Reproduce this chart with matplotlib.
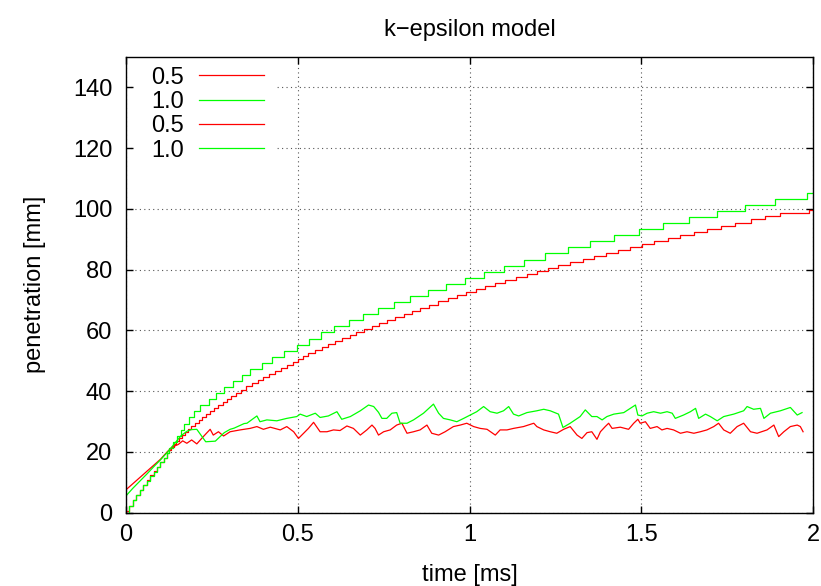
import matplotlib
matplotlib.use('Agg')
import matplotlib.pyplot as plt
import matplotlib.patches as patches

plt.rcParams['font.family'] = ['Liberation Sans', 'DejaVu Sans']

# tip penetration, 0.5 (stepped, red)
tip_t_05 = [0.0, 0.01, 0.02, 0.03, 0.04, 0.05, 0.06, 0.07, 0.08, 0.09, 0.10, 0.11, 0.12,
            0.125, 0.132, 0.139, 0.146, 0.154, 0.163, 0.171, 0.180, 0.190, 0.200,
            0.211, 0.222, 0.233, 0.244, 0.256, 0.269, 0.281, 0.294, 0.307, 0.321,
            0.336, 0.350, 0.367, 0.383, 0.400, 0.417, 0.433, 0.450, 0.468, 0.486,
            0.500, 0.515,
            0.531, 0.551, 0.570, 0.589, 0.609, 0.628, 0.651, 0.670, 0.693, 0.716,
            0.737, 0.759, 0.784, 0.808, 0.832, 0.856, 0.881, 0.908, 0.936, 0.963,
            0.989, 1.019, 1.046, 1.075, 1.104, 1.136, 1.167, 1.196, 1.227, 1.259,
            1.293, 1.329, 1.363, 1.398, 1.431, 1.468, 1.502, 1.538, 1.577, 1.614,
            1.653, 1.692, 1.732, 1.774, 1.818, 1.861, 1.905, 1.987, 2.0]
tip_v_05 = [0.5, 2.3, 4.0, 5.7, 7.4, 9.0, 10.6, 12.2, 13.7, 15.1, 16.5, 18.1, 19.7,
            20.5, 21.5, 22.5, 23.5, 24.5, 25.5, 26.5, 27.5, 28.5, 29.5,
            30.5, 31.5, 32.5, 33.5, 34.5, 35.5, 36.5, 37.5, 38.5, 39.5,
            40.5, 41.5, 42.5, 43.5, 44.5, 45.5, 46.5, 47.5, 48.5, 49.5,
            50.5, 51.5,
            52.5, 53.5, 54.5, 55.5, 56.5, 57.5, 58.5, 59.5, 60.5, 61.5,
            62.5, 63.5, 64.5, 65.5, 66.5, 67.5, 68.5, 69.5, 70.5, 71.5,
            72.5, 73.5, 74.5, 75.5, 76.5, 77.5, 78.5, 79.5, 80.5, 81.5,
            82.5, 83.5, 84.5, 85.5, 86.5, 87.5, 88.5, 89.5, 90.5, 91.5,
            92.5, 93.5, 94.5, 95.5, 96.5, 97.5, 98.5, 99.5, 99.5]

# tip penetration, 1.0 (stepped, green)
tip_t_10 = [0.0, 0.01, 0.02, 0.03, 0.04, 0.05, 0.06, 0.07, 0.08, 0.09, 0.10, 0.11, 0.12,
            0.126, 0.138, 0.148, 0.160, 0.170, 0.182, 0.198, 0.216, 0.243, 0.262,
            0.286, 0.311, 0.338, 0.362, 0.396, 0.425, 0.459, 0.498, 0.532, 0.567,
            0.606, 0.648, 0.689, 0.733, 0.779, 0.827, 0.879, 0.931, 0.987, 1.042,
            1.100, 1.159, 1.221, 1.287, 1.352, 1.421, 1.493, 1.563, 1.640, 1.721,
            1.803, 1.888, 1.983, 2.0]
tip_v_10 = [0.0, 2.0, 4.0, 5.8, 7.4, 9.0, 10.5, 12.0, 13.5, 15.0, 16.5, 18.0, 19.5,
            21.3, 23.3, 25.3, 27.3, 29.3, 31.3, 33.3, 35.3, 37.3, 39.3,
            41.3, 43.3, 45.3, 47.3, 49.3, 51.3, 53.3, 55.3, 57.3, 59.3,
            61.3, 63.3, 65.3, 67.3, 69.3, 71.3, 73.3, 75.3, 77.3, 79.3,
            81.3, 83.3, 85.3, 87.3, 89.3, 91.3, 93.3, 95.3, 97.3, 99.3,
            101.3, 103.3, 105.3, 105.3]

# liquid length, 0.5 (red)
liq_t_05 = [0, 0.02, 0.04, 0.06, 0.08, 0.10, 0.12, 0.135, 0.152, 0.165,
            0.177, 0.191, 0.206, 0.225, 0.245, 0.254, 0.269, 0.284, 0.303, 0.332,
            0.361, 0.381, 0.400, 0.420, 0.449, 0.468, 0.488, 0.502, 0.517, 0.531,
            0.546, 0.565, 0.585, 0.604, 0.623, 0.643, 0.662, 0.682, 0.701, 0.716,
            0.725, 0.735, 0.750, 0.769, 0.788, 0.803, 0.818, 0.837, 0.856, 0.876,
            0.890, 0.910, 0.929, 0.953, 0.973, 0.992, 1.012, 1.031, 1.051, 1.075,
            1.089, 1.109, 1.128, 1.157, 1.187, 1.196, 1.216, 1.235, 1.254, 1.274,
            1.293, 1.313, 1.327, 1.342, 1.356, 1.371, 1.381, 1.395, 1.405, 1.415,
            1.439, 1.463, 1.478, 1.490, 1.497, 1.512, 1.526, 1.546, 1.560, 1.575,
            1.594, 1.614, 1.633, 1.653, 1.672, 1.691, 1.711, 1.725, 1.740, 1.759,
            1.779, 1.798, 1.818, 1.837, 1.866, 1.886, 1.900, 1.915, 1.934, 1.954,
            1.963, 1.971]
liq_v_05 = [7.5, 9.5, 11.5, 13.5, 15.5, 17.5, 20.0, 21.6, 22.4, 23.6,
            22.8, 23.9, 22.6, 25.0, 27.4, 25.5, 26.6, 25.2, 26.6, 27.2,
            27.7, 28.3, 27.4, 28.1, 27.2, 28.3, 26.6, 24.4, 26.1, 27.7,
            29.7, 26.6, 26.6, 27.2, 27.0, 28.5, 27.7, 25.5, 27.2, 28.8,
            27.7, 25.5, 26.6, 27.2, 28.8, 29.4, 26.1, 26.6, 27.2, 28.8,
            26.1, 25.5, 26.6, 28.3, 28.8, 29.4, 28.3, 27.7, 27.4, 25.5,
            27.2, 27.2, 27.7, 28.3, 29.4, 28.3, 27.2, 26.6, 26.1, 27.4,
            28.3, 25.5, 24.4, 26.3, 26.6, 24.1, 26.6, 28.3, 29.4, 27.7,
            28.1, 27.4, 29.4, 30.7, 29.4, 29.9, 27.7, 28.3, 27.2, 27.7,
            27.2, 26.1, 26.6, 26.1, 26.6, 27.2, 28.3, 29.4, 27.2, 26.1,
            28.3, 29.4, 26.6, 26.1, 27.2, 28.8, 25.0, 26.6, 28.3, 28.8,
            28.3, 26.6]

# liquid length, 1.0 (green)
liq_t_10 = [0, 0.02, 0.04, 0.06, 0.08, 0.10, 0.12, 0.14, 0.16, 0.178,
            0.190, 0.206, 0.232, 0.260, 0.286, 0.303, 0.315, 0.344, 0.352, 0.381,
            0.390, 0.410, 0.439, 0.468, 0.497, 0.507, 0.526, 0.551, 0.565, 0.589,
            0.614, 0.628, 0.653, 0.682, 0.706, 0.721, 0.735, 0.745, 0.759, 0.774,
            0.788, 0.798, 0.818, 0.837, 0.866, 0.895, 0.910, 0.924, 0.944, 0.963,
            0.983, 1.002, 1.021, 1.041, 1.060, 1.080, 1.099, 1.114, 1.128, 1.143,
            1.167, 1.196, 1.216, 1.235, 1.259, 1.272, 1.293, 1.322, 1.337, 1.356,
            1.371, 1.386, 1.400, 1.420, 1.449, 1.468, 1.483, 1.490, 1.502, 1.517,
            1.536, 1.556, 1.575, 1.590, 1.599, 1.623, 1.643, 1.658, 1.667, 1.687,
            1.701, 1.721, 1.740, 1.769, 1.798, 1.808, 1.827, 1.847, 1.857, 1.876,
            1.905, 1.934, 1.954, 1.968]
liq_v_10 = [5.5, 8.0, 10.3, 12.6, 15.0, 17.3, 19.8, 22.5, 25.3, 26.8,
            27.3, 27.4, 23.3, 23.5, 26.3, 27.4, 27.8, 29.3, 29.4, 31.8,
            29.9, 30.5, 30.2, 31.0, 31.6, 32.4, 31.6, 32.7, 31.3, 31.8,
            33.2, 30.7, 31.6, 33.5, 35.4, 34.9, 33.0, 31.0, 31.0, 32.7,
            32.9, 29.4, 29.4, 30.5, 32.7, 35.7, 32.7, 31.0, 30.5, 29.9,
            31.0, 32.1, 33.2, 34.9, 33.2, 32.7, 33.5, 34.9, 32.4, 31.8,
            32.9, 33.5, 34.0, 33.5, 32.4, 28.0, 29.4, 31.6, 33.8, 31.6,
            31.6, 30.5, 31.6, 32.4, 32.9, 34.3, 35.4, 32.1, 31.8, 32.7,
            33.2, 32.7, 33.2, 32.7, 31.0, 32.1, 33.2, 34.3, 31.0, 32.4,
            31.6, 30.2, 31.6, 32.4, 33.5, 34.9, 34.0, 34.3, 31.0, 32.7,
            33.5, 34.6, 32.1, 32.9]

labels = ['0.5', '1.0', '0.5', '1.0']
xticks = [0, 0.5, 1, 1.5, 2]
xticklabels = ['0', '0.5', '1', '1.5', '2']
yticks = [0, 20, 40, 60, 80, 100, 120, 140]

FS = 17

fig = plt.figure(figsize=(8.21, 5.86), dpi=100)
ax = fig.add_axes([0.1535, 0.1254, 0.8368, 0.7773])

l1, = ax.plot(tip_t_05, tip_v_05, color='#ff0000', lw=0.9, drawstyle='steps-post', zorder=2)
l2, = ax.plot(tip_t_10, tip_v_10, color='#00ff00', lw=0.9, drawstyle='steps-post', zorder=2)
l3, = ax.plot(liq_t_05, liq_v_05, color='#ff0000', lw=0.9, zorder=2)
l4, = ax.plot(liq_t_10, liq_v_10, color='#00ff00', lw=0.9, zorder=2)

ax.set_xlim(0, 2)
ax.set_ylim(0, 150)
ax.set_xticks(xticks)
ax.set_xticklabels(xticklabels)
ax.set_yticks(yticks)
ax.tick_params(direction='in', length=5, width=1, top=True, right=True, labelsize=FS)
ax.tick_params(axis='x', pad=8)
ax.tick_params(axis='y', pad=10)
for s in ax.spines.values():
    s.set_linewidth(1.0)

ax.set_axisbelow(True)
ax.grid(True, color='#555555', lw=0.8, linestyle=(0, (1, 3)))

# white area behind the key, like gnuplot clears it
ax.add_patch(patches.Rectangle((0.013, 0.77), 0.207, 0.23, transform=ax.transAxes,
                               facecolor='white', edgecolor='none', zorder=1))

ax.legend([l1, l2, l3, l4], labels, loc='upper left', bbox_to_anchor=(0.036, 0.979),
          frameon=False, markerfirst=False, handlelength=2.75, handletextpad=0.65,
          labelspacing=0.1, borderpad=0, borderaxespad=0, fontsize=FS)

fig.text(0.572, 0.949, 'k\u2212epsilon model', ha='center', va='center', fontsize=FS)
fig.text(0.572, 0.019, 'time [ms]', ha='center', va='center', fontsize=FS)
fig.text(0.043, 0.514, 'penetration [mm]', ha='center', va='center', rotation=90, fontsize=FS)

fig.savefig('out.png', dpi=100)
